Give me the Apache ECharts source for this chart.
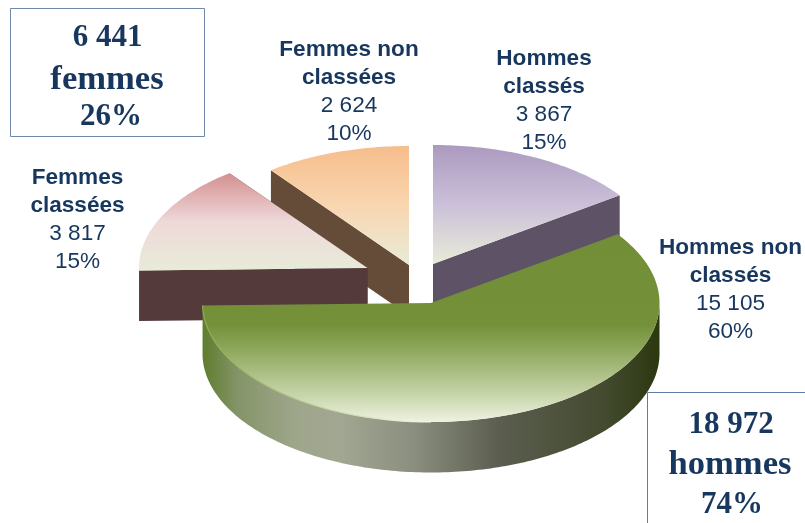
<!DOCTYPE html>
<html>
<head>
<meta charset="utf-8">
<style>html,body{margin:0;padding:0;background:#fff}#c{width:805px;height:523px}</style>
<script src="https://cdn.jsdelivr.net/npm/echarts@6/dist/echarts.min.js"></script>
</head>
<body>
<div id="c"></div>
<script>
// Data, clockwise from 12 o'clock
const categories = ['Hommes classés', 'Hommes non classés', 'Femmes classées', 'Femmes non classées'];
const values = [3867, 15105, 3817, 2624];
const valueLabels = ['3 867', '15 105', '3 817', '2 624'];
const percentLabels = ['15%', '60%', '15%', '10%'];
const titleLines = [['Hommes', 'classés'], ['Hommes non', 'classés'], ['Femmes', 'classées'], ['Femmes non', 'classées']];
const femmesBox = ['6 441', 'femmes', '26%'];
const hommesBox = ['18 972', 'hommes', '74%'];

// Look of each slice (same order as the data)
const RX = 228.5, RY = 119, DEPTH = 50.5;
const sliceStyle = [
  { cx: 433, cy: 264, z: 3, wall: '#5e5267', top: [[0, '#ab9abf'], [0.5, '#cbc0d9'], [1, '#e8ebd8']], label: [544, 59] },
  { cx: 431, cy: 303, z: 7, top: [[0, '#728f38'], [0.48, '#749139'], [0.62, '#8fa95e'], [0.85, '#c6d4a8'], [1, '#eef2e0']], label: [730.5, 248] },
  { cx: 367.5, cy: 268, z: 5, wall: '#553a3c', top: [[0, '#d48f91'], [0.5, '#eed9d9'], [1, '#e8ebd8']], label: [77.5, 178] },
  { cx: 409, cy: 265, z: 1, wall: '#644c38', top: [[0, '#f6bd8c'], [0.5, '#f9d6b0'], [1, '#e8ebd8']], label: [349, 50] }
];
const LABEL_COLOR = '#17375e';
const total = values.reduce((a, b) => a + b, 0);

function pt(s, deg, dy) {
  const r = deg * Math.PI / 180;
  return [s.cx + RX * Math.cos(r), s.cy - RY * Math.sin(r) + (dy || 0)];
}
function arc(s, from, to, dy) {
  const out = [], n = Math.ceil(Math.abs(to - from));
  for (let i = 0; i <= n; i++) out.push(pt(s, from + (to - from) * i / n, dy));
  return out;
}
const grad = (stops) => new echarts.graphic.LinearGradient(0, 0, 0, 1, stops.map(([offset, color]) => ({ offset, color })));

function renderSlice(params, api) {
  const i = params.dataIndex, s = sliceStyle[i];
  let before = 0;
  for (let k = 0; k < i; k++) before += values[k];
  const a0 = 90 - before / total * 360;
  const a1 = a0 - api.value(0) / total * 360;
  const children = [];
  const apex = [s.cx, s.cy];

  if (s.wall) {
    // visible cut faces
    [a0, a1].forEach((a) => {
      const p = pt(s, a);
      children.push({
        type: 'polygon', z2: s.z,
        shape: { points: [p, apex, [apex[0], apex[1] + DEPTH], [p[0], p[1] + DEPTH]] },
        style: { fill: s.wall }
      });
    });
  } else {
    // round outer wall of the front slice
    const up = arc(s, a1, 0, 0);
    const down = arc(s, 0, a1, DEPTH);
    children.push({
      type: 'polygon', z2: s.z,
      shape: { points: up.concat(down) },
      style: {
        fill: new echarts.graphic.LinearGradient(0, 0, 1, 0, [
          { offset: 0, color: '#5f7d2e' }, { offset: 0.08, color: '#85956a' },
          { offset: 0.2, color: '#9ea68a' }, { offset: 0.3, color: '#a1a792' },
          { offset: 0.46, color: '#8b8f7f' }, { offset: 0.65, color: '#5b5e4f' },
          { offset: 0.88, color: '#434a2f' }, { offset: 1, color: '#2c3810' }
        ])
      }
    });
  }
  children.push({
    type: 'polygon', z2: s.z + 1,
    shape: { points: [apex].concat(arc(s, a0, a1)) },
    style: { fill: grad(s.top) }
  });
  if (!s.wall) {
    children.push({
      type: 'polyline', z2: s.z + 1,
      shape: { points: arc(s, a1, -90) },
      style: {
        fill: null, lineWidth: 1.2,
        stroke: new echarts.graphic.LinearGradient(0, 0, 1, 0, [
          { offset: 0, color: '#8ea84f' }, { offset: 1, color: '#f4f7e4' }
        ])
      }
    });
  }
  // slice label
  const lx = s.label[0], ly = s.label[1];
  const lines = titleLines[i].concat([valueLabels[i], percentLabels[i]]);
  lines.forEach((t, k) => {
    children.push({
      type: 'text', z2: 20,
      style: {
        x: lx, y: ly + k * 28, text: t, align: 'center', verticalAlign: 'middle',
        fill: LABEL_COLOR,
        font: (k < 2 ? 'bold ' : '') + '22.6px "Liberation Sans", Arial, sans-serif'
      }
    });
  });
  return { type: 'group', children };
}

function boxText(lines, cxs, ys) {
  return lines.map((t, k) => ({
    type: 'text', z: 30,
    style: {
      x: cxs[k], y: ys[k], text: t, align: 'center', verticalAlign: 'middle',
      fill: LABEL_COLOR,
      font: 'bold ' + (k === 1 ? 34.6 : 31) + 'px "Liberation Serif", Georgia, serif'
    }
  }));
}

const chart = echarts.init(document.getElementById('c'), null, { renderer: 'canvas' });
chart.setOption({
  animation: false,
  backgroundColor: '#fff',
  series: [{
    type: 'custom',
    coordinateSystem: 'none',
    silent: true,
    clip: false,
    renderItem: renderSlice,
    data: categories.map((name, i) => ({ name, value: [values[i]] }))
  }],
  graphic: {
    elements: [
      { type: 'rect', z: 25, shape: { x: 10.5, y: 8.5, width: 194, height: 128 }, style: { fill: '#fff', stroke: '#6f89a8', lineWidth: 1 } },
      { type: 'rect', z: 25, shape: { x: 647.5, y: 392.5, width: 170, height: 140 }, style: { fill: '#fff', stroke: '#5f7ca6', lineWidth: 1 } }
    ].concat(boxText(femmesBox, [107.5, 107, 111], [38, 80, 117]))
     .concat(boxText(hommesBox, [731, 730, 732], [425, 465, 505]))
  }
});
</script>
</body>
</html>
